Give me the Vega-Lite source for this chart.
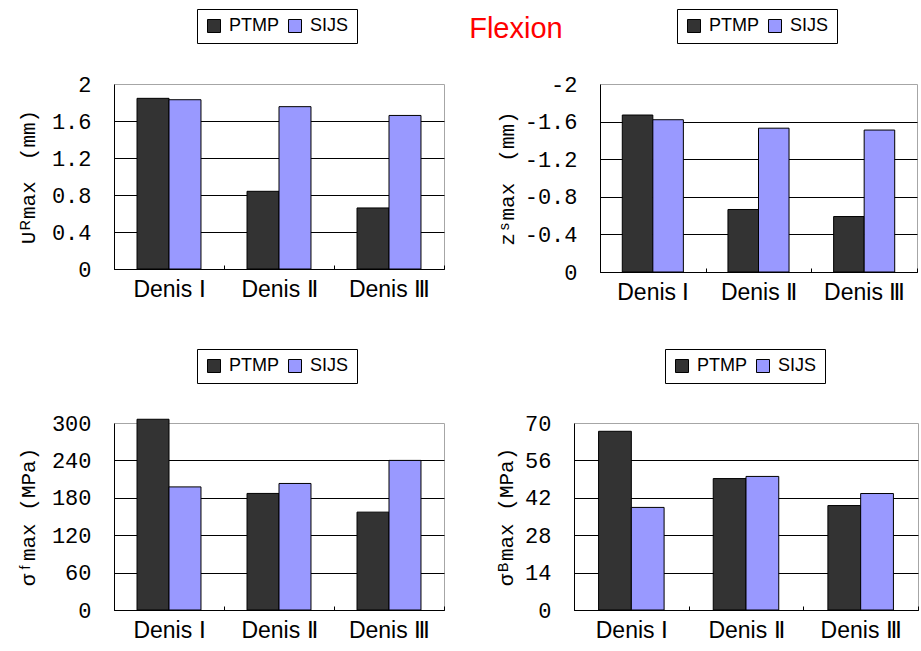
{
  "$schema": "https://vega.github.io/schema/vega-lite/v6.json",
  "padding": {"left": 16, "top": 8, "right": 0, "bottom": 0},
  "background": "white",
  "title": {"text": "Flexion", "color": "#ff0000", "font": "Liberation Sans", "fontSize": 29, "fontWeight": "normal", "anchor": "middle", "offset": -36, "dx": 48},
  "datasets": {
    "ur": [
      {"group": "Denis Ⅰ", "method": "PTMP", "value": 1.845},
      {"group": "Denis Ⅰ", "method": "SIJS", "value": 1.83},
      {"group": "Denis Ⅱ", "method": "PTMP", "value": 0.84},
      {"group": "Denis Ⅱ", "method": "SIJS", "value": 1.755},
      {"group": "Denis Ⅲ", "method": "PTMP", "value": 0.66},
      {"group": "Denis Ⅲ", "method": "SIJS", "value": 1.66}
    ],
    "zs": [
      {"group": "Denis Ⅰ", "method": "PTMP", "value": -1.67},
      {"group": "Denis Ⅰ", "method": "SIJS", "value": -1.62},
      {"group": "Denis Ⅱ", "method": "PTMP", "value": -0.665},
      {"group": "Denis Ⅱ", "method": "SIJS", "value": -1.53},
      {"group": "Denis Ⅲ", "method": "PTMP", "value": -0.59},
      {"group": "Denis Ⅲ", "method": "SIJS", "value": -1.51}
    ],
    "sf": [
      {"group": "Denis Ⅰ", "method": "PTMP", "value": 306},
      {"group": "Denis Ⅰ", "method": "SIJS", "value": 197.5},
      {"group": "Denis Ⅱ", "method": "PTMP", "value": 187},
      {"group": "Denis Ⅱ", "method": "SIJS", "value": 203},
      {"group": "Denis Ⅲ", "method": "PTMP", "value": 157},
      {"group": "Denis Ⅲ", "method": "SIJS", "value": 240}
    ],
    "sb": [
      {"group": "Denis Ⅰ", "method": "PTMP", "value": 66.9},
      {"group": "Denis Ⅰ", "method": "SIJS", "value": 38.4},
      {"group": "Denis Ⅱ", "method": "PTMP", "value": 49.2},
      {"group": "Denis Ⅱ", "method": "SIJS", "value": 50},
      {"group": "Denis Ⅲ", "method": "PTMP", "value": 39.1},
      {"group": "Denis Ⅲ", "method": "SIJS", "value": 43.6}
    ]
  },
  "spacing": 43,
  "resolve": {"scale": {"color": "independent", "x": "independent", "y": "independent", "xOffset": "independent"}, "legend": {"color": "independent"}, "axis": {"x": "independent", "y": "independent"}},
  "vconcat": [
    {
      "spacing": 50,
      "resolve": {"scale": {"color": "independent", "x": "independent", "y": "independent", "xOffset": "independent"}, "legend": {"color": "independent"}, "axis": {"x": "independent", "y": "independent"}},
      "hconcat": [
        {
          "width": 330, "height": 185,
          "data": {"name": "ur"},
          "mark": {"type": "bar", "stroke": "black", "strokeWidth": 1},
          "encoding": {
            "x": {"field": "group", "type": "nominal", "sort": null, "scale": {"paddingInner": 0, "paddingOuter": 0}, "axis": {"title": null}},
            "xOffset": {"field": "method", "type": "nominal", "scale": {"paddingInner": 0, "paddingOuter": 0.72}},
            "y": {"field": "value", "type": "quantitative", "scale": {"domain": [0, 2], "nice": false},
              "axis": {"values": [0, 0.4, 0.8, 1.2, 1.6, 2], "title": "Uᴿmax\u2003(mm)", "titlePadding": 13,
                "gridColor": {"condition": {"test": "datum.value === 2", "value": "transparent"}, "value": "black"}}},
            "color": {"field": "method", "type": "nominal", "scale": {"domain": ["PTMP", "SIJS"], "range": ["#333333", "#9999ff"]},
              "legend": {"legendX": 83, "legendY": -75}}
          }
        },
        {
          "width": 317, "height": 188,
          "data": {"name": "zs"},
          "mark": {"type": "bar", "stroke": "black", "strokeWidth": 1},
          "encoding": {
            "x": {"field": "group", "type": "nominal", "sort": null, "scale": {"paddingInner": 0, "paddingOuter": 0}, "axis": {"title": null}},
            "xOffset": {"field": "method", "type": "nominal", "scale": {"paddingInner": 0, "paddingOuter": 0.73}},
            "y": {"field": "value", "type": "quantitative", "scale": {"domain": [0, -2], "nice": false},
              "axis": {"values": [0, -0.4, -0.8, -1.2, -1.6, -2], "title": "zˢmax\u2003(mm)", "titlePadding": 7,
                "gridColor": {"condition": {"test": "datum.value === -2", "value": "transparent"}, "value": "black"}}},
            "color": {"field": "method", "type": "nominal", "scale": {"domain": ["PTMP", "SIJS"], "range": ["#333333", "#9999ff"]},
              "legend": {"legendX": 77, "legendY": -75}}
          }
        }
      ]
    },
    {
      "spacing": 50,
      "resolve": {"scale": {"color": "independent", "x": "independent", "y": "independent", "xOffset": "independent"}, "legend": {"color": "independent"}, "axis": {"x": "independent", "y": "independent"}},
      "hconcat": [
        {
          "width": 330, "height": 187,
          "data": {"name": "sf"},
          "mark": {"type": "bar", "stroke": "black", "strokeWidth": 1},
          "encoding": {
            "x": {"field": "group", "type": "nominal", "sort": null, "scale": {"paddingInner": 0, "paddingOuter": 0}, "axis": {"title": null}},
            "xOffset": {"field": "method", "type": "nominal", "scale": {"paddingInner": 0, "paddingOuter": 0.72}},
            "y": {"field": "value", "type": "quantitative", "scale": {"domain": [0, 300], "nice": false},
              "axis": {"values": [0, 60, 120, 180, 240, 300], "title": "σᶠmax (MPa)", "titlePadding": 13,
                "gridColor": {"condition": {"test": "datum.value === 300", "value": "transparent"}, "value": "black"}}},
            "color": {"field": "method", "type": "nominal", "scale": {"domain": ["PTMP", "SIJS"], "range": ["#333333", "#9999ff"]},
              "legend": {"legendX": 83, "legendY": -74}}
          }
        },
        {
          "width": 344, "height": 187,
          "data": {"name": "sb"},
          "mark": {"type": "bar", "stroke": "black", "strokeWidth": 1},
          "encoding": {
            "x": {"field": "group", "type": "nominal", "sort": null, "scale": {"paddingInner": 0, "paddingOuter": 0}, "axis": {"title": null}},
            "xOffset": {"field": "method", "type": "nominal", "scale": {"paddingInner": 0, "paddingOuter": 0.75}},
            "y": {"field": "value", "type": "quantitative", "scale": {"domain": [0, 70], "nice": false},
              "axis": {"values": [0, 14, 28, 42, 56, 70], "title": "σᴮmax (MPa)", "titlePadding": 8,
                "gridColor": {"condition": {"test": "datum.value === 70", "value": "transparent"}, "value": "black"}}},
            "color": {"field": "method", "type": "nominal", "scale": {"domain": ["PTMP", "SIJS"], "range": ["#333333", "#9999ff"]},
              "legend": {"legendX": 91, "legendY": -74}}
          }
        }
      ]
    }
  ],
  "config": {
    "view": {"stroke": "#a6a6a6", "strokeWidth": 1},
    "axisX": {"labelAngle": 0, "tickBand": "extent", "ticks": true, "tickSize": -4, "tickColor": "black", "domainColor": "black", "labelFont": "Liberation Sans", "labelFontSize": 23, "labelColor": "black", "labelPadding": 13, "grid": false},
    "axisY": {"grid": true, "gridWidth": 1, "ticks": false, "domainColor": "black", "labelFont": "Liberation Mono", "labelFontSize": 22, "labelColor": "black", "labelPadding": 23,
      "labelExpr": "replace(format(datum.value, '~g'), '\u2212', '-')", "titleFont": "Liberation Mono", "titleFontSize": 21, "titleFontWeight": "normal", "titleColor": "black"},
    "legend": {"orient": "none", "direction": "horizontal", "title": null, "strokeColor": "black", "fillColor": "white", "padding": 8, "symbolType": "square", "symbolSize": 169, "symbolStrokeColor": "black", "symbolStrokeWidth": 1, "symbolOpacity": 1, "labelFont": "Liberation Sans", "labelFontSize": 18, "labelColor": "black", "columnPadding": 6, "labelOffset": 6}
  }
}
